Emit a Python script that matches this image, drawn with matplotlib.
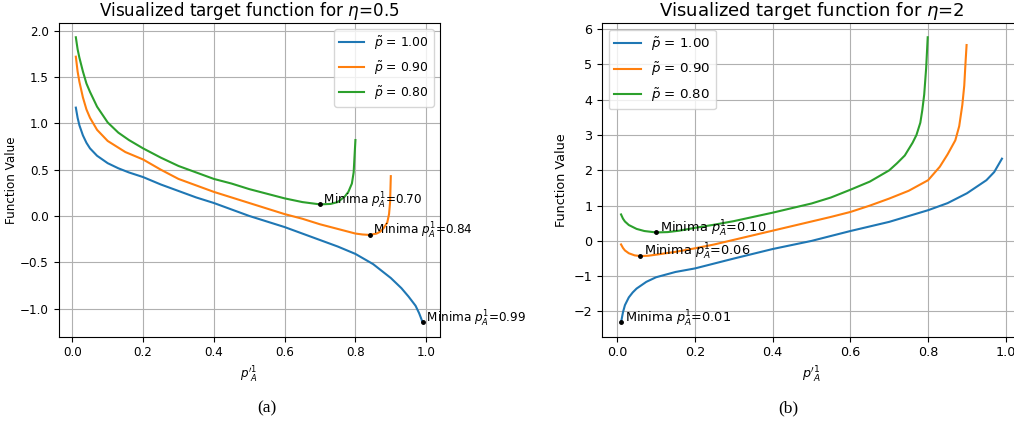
import numpy as np
import matplotlib
matplotlib.use("Agg")
import matplotlib.pyplot as plt

# ---------------- data ----------------
labels = [r"$\tilde{p}$ = 1.00", r"$\tilde{p}$ = 0.90", r"$\tilde{p}$ = 0.80"]
titles = [r"Visualized target function for $\eta$=0.5", r"Visualized target function for $\eta$=2"]
captions = ["(a)", "(b)"]

# eta = 0.5
a_blue_x = [0.01, 0.015, 0.02, 0.03, 0.04, 0.05, 0.07, 0.1, 0.13, 0.16, 0.2, 0.25, 0.3, 0.35, 0.4, 0.45,
            0.5, 0.55, 0.6, 0.65, 0.7, 0.75, 0.8, 0.85, 0.9, 0.93, 0.95, 0.97, 0.98, 0.99]
a_blue_y = [1.17, 1.06, 0.98, 0.87, 0.79, 0.73, 0.65, 0.57, 0.515, 0.47, 0.42, 0.34, 0.27, 0.20, 0.14, 0.07,
            0.00, -0.06, -0.12, -0.19, -0.26, -0.33, -0.41, -0.52, -0.67, -0.78, -0.87, -0.97, -1.05, -1.15]
a_orange_x = [0.01, 0.015, 0.02, 0.03, 0.04, 0.05, 0.07, 0.1, 0.15, 0.2, 0.25, 0.3, 0.35, 0.4, 0.45, 0.5,
              0.55, 0.6, 0.65, 0.7, 0.75, 0.8, 0.82, 0.84, 0.86, 0.87, 0.88, 0.89, 0.895, 0.898, 0.9]
a_orange_y = [1.72, 1.56, 1.45, 1.28, 1.15, 1.06, 0.93, 0.81, 0.69, 0.61, 0.50, 0.40, 0.33, 0.26, 0.20, 0.14,
              0.08, 0.02, -0.03, -0.09, -0.14, -0.19, -0.20, -0.205, -0.19, -0.17, -0.13, -0.07, 0.02, 0.15, 0.43]
a_green_x = [0.01, 0.015, 0.02, 0.03, 0.04, 0.05, 0.07, 0.1, 0.13, 0.16, 0.2, 0.25, 0.3, 0.35, 0.4, 0.45,
             0.5, 0.55, 0.6, 0.65, 0.7, 0.73, 0.75, 0.77, 0.78, 0.79, 0.795, 0.8]
a_green_y = [1.93, 1.80, 1.71, 1.56, 1.43, 1.34, 1.18, 1.01, 0.90, 0.82, 0.73, 0.63, 0.54, 0.47, 0.40, 0.35,
             0.29, 0.24, 0.19, 0.15, 0.125, 0.13, 0.15, 0.21, 0.26, 0.35, 0.47, 0.82]

# eta = 2
b_blue_x = [0.01, 0.015, 0.02, 0.03, 0.04, 0.05, 0.075, 0.1, 0.15, 0.2, 0.3, 0.4, 0.5, 0.6, 0.7, 0.8,
            0.85, 0.9, 0.95, 0.97, 0.99]
b_blue_y = [-2.31, -2.02, -1.82, -1.6, -1.46, -1.35, -1.16, -1.03, -0.88, -0.78, -0.50, -0.23, 0.0, 0.28, 0.54, 0.87,
            1.07, 1.35, 1.72, 1.95, 2.33]
b_orange_x = [0.01, 0.015, 0.02, 0.03, 0.045, 0.06, 0.08, 0.1, 0.15, 0.2, 0.25, 0.3, 0.35, 0.4, 0.45,
              0.5, 0.55, 0.6, 0.65, 0.7, 0.75, 0.8, 0.83, 0.85, 0.87, 0.88, 0.888, 0.893, 0.896, 0.899]
b_orange_y = [-0.10, -0.20, -0.27, -0.35, -0.41, -0.43, -0.42, -0.39, -0.31, -0.21, -0.10, 0.03, 0.16, 0.29, 0.42,
              0.55, 0.68, 0.82, 1.00, 1.20, 1.42, 1.72, 2.10, 2.45, 2.85, 3.25, 3.85, 4.40, 5.00, 5.55]
b_green_x = [0.01, 0.015, 0.02, 0.03, 0.05, 0.07, 0.1, 0.13, 0.16, 0.2, 0.25, 0.3, 0.35, 0.4, 0.45,
             0.5, 0.55, 0.6, 0.65, 0.7, 0.72, 0.74, 0.76, 0.77, 0.78, 0.785, 0.79, 0.795, 0.799]
b_green_y = [0.75, 0.63, 0.55, 0.45, 0.34, 0.28, 0.24, 0.25, 0.29, 0.37, 0.46, 0.56, 0.68, 0.80, 0.93,
             1.06, 1.23, 1.45, 1.68, 2.00, 2.20, 2.42, 2.78, 3.00, 3.35, 3.70, 4.15, 4.90, 5.77]

panels = [
    [(a_blue_x, a_blue_y), (a_orange_x, a_orange_y), (a_green_x, a_green_y)],
    [(b_blue_x, b_blue_y), (b_orange_x, b_orange_y), (b_green_x, b_green_y)],
]
legend_locs = ["upper right", "upper left"]
colors = ["#1f77b4", "#ff7f0e", "#2ca02c"]

# ---------------- figure ----------------
W, H = 1014, 430
fig = plt.figure(figsize=(W / 100, H / 100), dpi=100)

def px_rect(l, r, t, b):
    return [l / W, (H - b) / H, (r - l) / W, (b - t) / H]

axes_rects = [px_rect(58.5, 440, 23, 336.7), px_rect(602, 1021, 23, 336.7)]
caption_x = [267, 788]
# the left panel is slightly narrower in the reference -> a little smaller text
scales = [0.93, 1.0]
ylabel_pads = [1.5, 4.0]

for k, (rect, curves) in enumerate(zip(axes_rects, panels)):
    s = scales[k]
    fs = 9.2 * s
    ax = fig.add_axes(rect)
    for (xs, ys), lab, col in zip(curves, labels, colors):
        ax.plot(xs, ys, color=col, label=lab, lw=1.5)
    for (xs, ys) in curves:
        i = int(np.argmin(ys))
        ax.plot([xs[i]], [ys[i]], '.', color='black', markersize=5)
        ax.text(xs[i], ys[i], f" Minima $p_A^1$={xs[i]:.2f}", fontsize=9.3 * s)
    ax.grid(True)
    ax.set_title(titles[k], fontsize=13 * s, pad=5)
    ax.set_xlabel(r"$p'^1_A$", fontsize=fs)
    ax.set_ylabel("Function Value", fontsize=fs, labelpad=ylabel_pads[k])
    ax.tick_params(labelsize=fs)
    ax.legend(loc=legend_locs[k], fontsize=9.6 * s, labelspacing=0.62)
    fig.text(caption_x[k] / W, (H - 408) / H, captions[k], family="Liberation Serif",
             fontsize=12.5, ha="center", va="center")

fig.savefig("out.png", dpi=100)
